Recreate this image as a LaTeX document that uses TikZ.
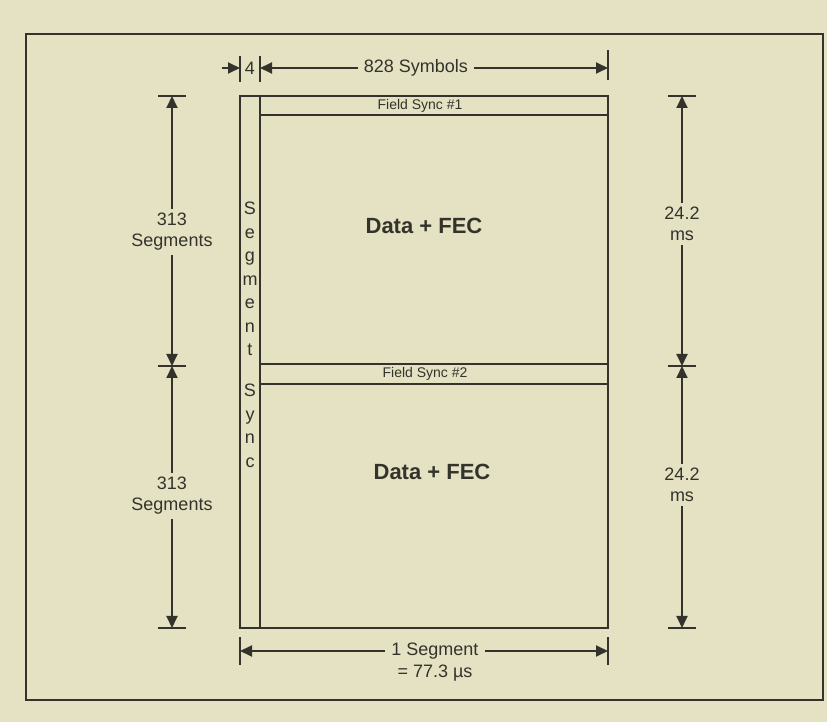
\documentclass[tikz,border=0pt]{standalone}
\usepackage{fontspec}
\setmainfont{Liberation Sans}
\usepackage{xcolor}
\definecolor{CPaper}{HTML}{E4E2C2}
\definecolor{CInk}{HTML}{33332B}
\usetikzlibrary{arrows.meta,positioning}
\tikzstyle{dimLabel}=[inner xsep=3pt, inner ysep=2pt, align=center, text=CInk,
  font=\fontsize{9}{10.5}\selectfont]
\tikzstyle{syncLabel}=[inner sep=0pt, text=CInk, font=\fontsize{7}{8}\selectfont]
\tikzstyle{dataLabel}=[inner sep=0pt, text=CInk, font=\bfseries\fontsize{11}{13}\selectfont]
\tikzstyle{letterCol}=[inner sep=0pt, align=center, text=CInk,
  font=\fontsize{9}{11.75}\selectfont]
\tikzstyle{dimArr}=[-{Triangle[length=6pt,width=5.5pt]}, line width=0.9pt, draw=CInk]
\tikzstyle{dimTick}=[line width=0.9pt, draw=CInk]
\tikzstyle{boxLine}=[line width=1pt, draw=CInk]

\begin{document}
\begin{tikzpicture}[x=0.5pt,y=-0.5pt]
\fill[CPaper] (0,0) rectangle (827,722);
\useasboundingbox (0,0) rectangle (827,722);
% outer frame
\draw[line width=1.2pt, draw=CInk] (26,34) rectangle (823,700);
% segment frame
\draw[boxLine] (240,96) rectangle (608,628);
\draw[boxLine] (260,96) -- (260,628);
\draw[boxLine] (260,115) -- (608,115);
\draw[boxLine] (260,364) -- (608,364);
\draw[boxLine] (260,384) -- (608,384);
\node[syncLabel] (fs1) at (420,105.5) {Field Sync \#1};
\node[syncLabel] (fs2) at (425,374) {Field Sync \#2};
\node[dataLabel] (dataA) at (424,226) {Data + FEC};
\node[dataLabel] (dataB) at (432,472) {Data + FEC};
\node[letterCol] (segWord) at (250,279) {S\\e\\g\\m\\e\\n\\t};
\node[letterCol] (syncWord) at (250,426) {S\\y\\n\\c};
% top dimensions
\draw[dimTick] (240,56) -- (240,82);
\draw[dimTick] (260,56) -- (260,82);
\draw[dimTick] (608,50) -- (608,80);
\coordinate (fourTail) at (222,68);
\coordinate (fourR) at (240,68);
\coordinate (symL) at (260,68);
\coordinate (symR) at (608,68);
\node[dimLabel, inner xsep=0pt] (four) at (250,68) {4};
\node[dimLabel] (sym) at (416,68) {828 Symbols};
\draw[dimArr] (fourTail) -- (fourR);
\draw[dimArr] (sym) -- (symL);
\draw[dimArr] (sym) -- (symR);
% bottom dimension
\draw[dimTick] (240,637) -- (240,665);
\draw[dimTick] (608,637) -- (608,665);
\coordinate (segL) at (240,651);
\coordinate (segR) at (608,651);
\node[dimLabel] (seg) at (435,651) {1 Segment};
\node[dimLabel] (segVal) at (435,673) {= 77.3 µs};
\draw[dimArr] (seg) -- (segL);
\draw[dimArr] (seg) -- (segR);
% left dimensions
\draw[dimTick] (158,96) -- (186,96);
\draw[dimTick] (158,366) -- (186,366);
\draw[dimTick] (158,628) -- (186,628);
\coordinate (lTop) at (172,96);
\coordinate (lMid) at (172,366);
\coordinate (lBot) at (172,628);
\node[dimLabel] (lSegA) at (172,232) {313\\Segments};
\node[dimLabel] (lSegB) at (172,496) {313\\Segments};
\draw[dimArr] (lSegA) -- (lTop);
\draw[dimArr] (lSegA) -- (lMid);
\draw[dimArr] (lSegB) -- (lMid);
\draw[dimArr] (lSegB) -- (lBot);
% right dimensions
\draw[dimTick] (668,96) -- (696,96);
\draw[dimTick] (668,366) -- (696,366);
\draw[dimTick] (668,628) -- (696,628);
\coordinate (rTop) at (682,96);
\coordinate (rMid) at (682,366);
\coordinate (rBot) at (682,628);
\node[dimLabel] (rMsA) at (682,224) {24.2\\ms};
\node[dimLabel] (rMsB) at (682,485) {24.2\\ms};
\draw[dimArr] (rMsA) -- (rTop);
\draw[dimArr] (rMsA) -- (rMid);
\draw[dimArr] (rMsB) -- (rMid);
\draw[dimArr] (rMsB) -- (rBot);
\end{tikzpicture}
\end{document}
